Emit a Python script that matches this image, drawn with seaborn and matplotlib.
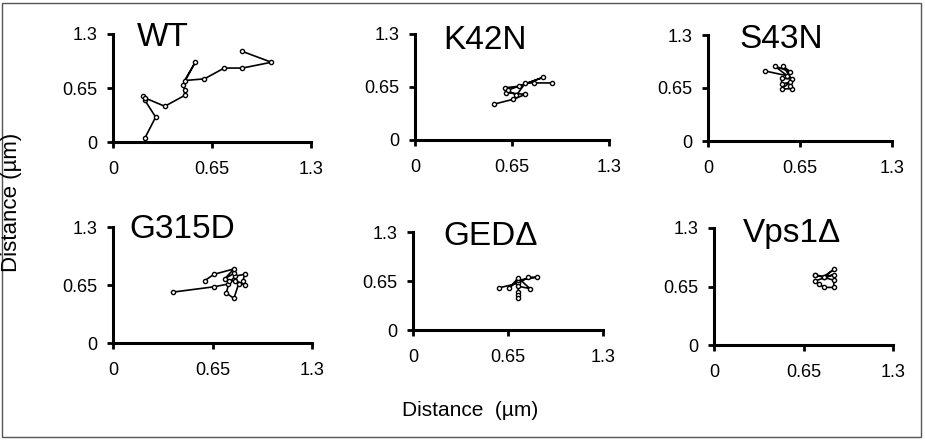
import matplotlib
matplotlib.use("Agg")
import matplotlib.pyplot as plt
from matplotlib import font_manager
from matplotlib.patches import Rectangle
import pandas as pd
import seaborn as sns

# trajectories (µm)
wt_x = [0.21, 0.28, 0.21, 0.20, 0.21, 0.34, 0.47, 0.47, 0.46, 0.54, 0.47, 0.60, 0.73, 0.85, 1.04, 0.85]
wt_y = [0.05, 0.30, 0.50, 0.55, 0.53, 0.43, 0.56, 0.63, 0.69, 0.96, 0.74, 0.76, 0.89, 0.89, 0.96, 1.09]

k42n_x = [0.53, 0.66, 0.74, 0.61, 0.60, 0.70, 0.86, 0.62, 0.68, 0.74, 0.80, 0.92]
k42n_y = [0.44, 0.50, 0.56, 0.58, 0.64, 0.66, 0.77, 0.61, 0.55, 0.70, 0.70, 0.70]

s43n_x = [0.40, 0.56, 0.47, 0.58, 0.53, 0.59, 0.52, 0.52, 0.58, 0.52, 0.59, 0.58]
s43n_y = [0.86, 0.80, 0.92, 0.85, 0.92, 0.76, 0.77, 0.70, 0.72, 0.64, 0.64, 0.68]

g315d_x = [0.39, 0.66, 0.75, 0.80, 0.86, 0.85, 0.86, 0.80, 0.76, 0.74, 0.79, 0.82, 0.79, 0.73, 0.79, 0.66, 0.60]
g315d_y = [0.57, 0.63, 0.66, 0.75, 0.77, 0.70, 0.65, 0.70, 0.69, 0.56, 0.50, 0.66, 0.78, 0.72, 0.83, 0.77, 0.70]

ged_x = [0.59, 0.72, 0.79, 0.85, 0.72, 0.66, 0.72, 0.80, 0.72, 0.72, 0.72, 0.72]
ged_y = [0.56, 0.62, 0.70, 0.70, 0.66, 0.56, 0.69, 0.55, 0.58, 0.51, 0.46, 0.42]

vps1_x = [0.73, 0.80, 0.87, 0.80, 0.87, 0.73, 0.76, 0.80, 0.87, 0.87, 0.73]
vps1_y = [0.78, 0.76, 0.84, 0.76, 0.78, 0.71, 0.68, 0.64, 0.64, 0.72, 0.78]

titles = ["WT", "K42N", "S43N", "G315D", "GEDΔ", "Vps1Δ"]
series = [(wt_x, wt_y), (k42n_x, k42n_y), (s43n_x, s43n_y),
          (g315d_x, g315d_y), (ged_x, ged_y), (vps1_x, vps1_y)]
ticks = [0, 0.65, 1.3]
tick_labels = ["0", "0.65", "1.3"]

W, H = 925, 440
# axes boxes in pixels: left, right, top, bottom
boxes = [(113, 311, 34, 142), (415, 609, 34, 140), (708, 892, 35, 141),
         (113, 312, 227, 343), (413, 603, 232, 330), (714, 893, 228, 345)]
# title anchor (left, baseline) in pixels
title_pos = [(137, 46), (443, 49), (739, 48), (129, 238), (443, 245), (743, 242)]

sns.set_style("ticks")
plt.rcParams["font.family"] = ["Liberation Sans", "DejaVu Sans"]
names = {f.name for f in font_manager.fontManager.ttflist}
tick_font = "Liberation Sans Narrow" if "Liberation Sans Narrow" in names else "Liberation Sans"

fig = plt.figure(figsize=(W / 100, H / 100), dpi=100)

for (xs, ys), (l, r, t, b), title, (tx, ty) in zip(series, boxes, titles, title_pos):
    ax = fig.add_axes([l / W, 1 - b / H, (r - l) / W, (b - t) / H])
    df = pd.DataFrame({"x": xs, "y": ys})
    sns.lineplot(data=df, x="x", y="y", ax=ax, sort=False, estimator=None,
                 color="black", lw=1.2, marker="o", markersize=3.0,
                 markerfacecolor="white", markeredgecolor="black",
                 markeredgewidth=1.0)
    ax.set_xlim(0, 1.3)
    ax.set_ylim(0, 1.3)
    ax.set_xticks(ticks, labels=tick_labels)
    ax.set_yticks(ticks, labels=tick_labels)
    ax.set_xlabel("")
    ax.set_ylabel("")
    sns.despine(ax=ax)
    for side in ("left", "bottom"):
        ax.spines[side].set_linewidth(2.2)
        ax.spines[side].set_color("black")
    ax.tick_params(axis="both", length=4.5, width=2.0, labelsize=13,
                   color="black", labelcolor="black")
    ax.tick_params(axis="x", pad=9)
    ax.tick_params(axis="y", pad=7)
    for lab in ax.get_xticklabels() + ax.get_yticklabels():
        lab.set_family(tick_font)
    fig.text(tx / W, 1 - ty / H, title, fontsize=24, ha="left", va="baseline",
             color="black")

fig.text(470 / W, 1 - 410 / H, "Distance  (µm)", fontsize=15, ha="center", va="center",
         color="black")
fig.text(12 / W, 1 - 202 / H, "Distance (µm)", fontsize=16, ha="center", va="center",
         rotation=90, color="black")

fig.patches.append(Rectangle((2 / W, 3 / H), 919 / W, 434 / H, transform=fig.transFigure,
                             fill=False, edgecolor="#555555", lw=1.0))

fig.savefig("out.png", dpi=100)
